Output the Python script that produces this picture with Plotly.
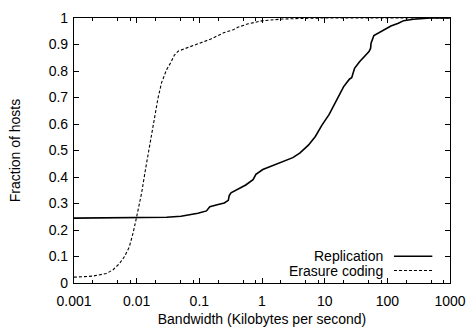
import plotly.graph_objects as go

# Replication (solid) CDF
rep_x = [0.001, 0.003, 0.01, 0.03, 0.051, 0.095, 0.13, 0.14, 0.147, 0.2, 0.25, 0.29, 0.3, 0.32,
         0.41, 0.55, 0.72, 0.75, 0.8, 1.03, 1.49, 2.2, 3.1, 4.0, 5.5, 7.1, 9.0, 11.8, 14.0,
         16.8, 20.0, 22.4, 25.0, 27.0, 30.0, 36.0, 43.0, 51.0, 54.0, 55.0, 61.0, 80.0,
         114.0, 150.0, 182.0, 260.0, 350.0, 490.0, 1000.0]
rep_y = [0.245, 0.246, 0.247, 0.248, 0.252, 0.263, 0.272, 0.285, 0.288, 0.296, 0.302, 0.312, 0.33,
         0.34, 0.355, 0.37, 0.39, 0.40, 0.41, 0.428, 0.443, 0.458, 0.473, 0.49, 0.52, 0.553,
         0.595, 0.636, 0.67, 0.71, 0.74, 0.756, 0.77, 0.775, 0.81, 0.835, 0.855, 0.873,
         0.885, 0.905, 0.934, 0.95, 0.97, 0.98, 0.99, 0.995, 0.998, 1.0, 1.0]

# Erasure coding (dashed) CDF
era_x = [0.001, 0.002, 0.0033, 0.0042, 0.0053, 0.0064, 0.0076, 0.0088, 0.01, 0.012, 0.014,
         0.0165, 0.0187, 0.022, 0.025, 0.03, 0.0347, 0.04, 0.046, 0.06, 0.095, 0.15, 0.25,
         0.35, 0.41, 0.6, 1.03, 2.1, 4.0, 9.0, 1000.0]
era_y = [0.022, 0.026, 0.036, 0.05, 0.073, 0.1, 0.135, 0.19, 0.25, 0.34, 0.436, 0.53, 0.61,
         0.7, 0.756, 0.805, 0.83, 0.86, 0.875, 0.885, 0.90, 0.92, 0.945, 0.956, 0.965,
         0.978, 0.99, 0.996, 0.998, 1.0, 1.0]

series_names = ["Replication", "Erasure coding"]
x_ticks = [0.001, 0.01, 0.1, 1, 10, 100, 1000]
x_ticktext = ["0.001", "0.01", "0.1", "1", "10", "100", "1000"]
y_ticks = [0, 0.1, 0.2, 0.3, 0.4, 0.5, 0.6, 0.7, 0.8, 0.9, 1]
y_ticktext = ["0", "0.1", "0.2", "0.3", "0.4", "0.5", "0.6", "0.7", "0.8", "0.9", "1"]
minor_mult = [2, 5, 8]

FONT = "Liberation Sans, Arial, sans-serif"

fig = go.Figure()
fig.add_trace(go.Scatter(x=rep_x, y=rep_y, mode="lines", name=series_names[0],
                         line=dict(color="black", width=1.6), showlegend=False))
fig.add_trace(go.Scatter(x=era_x, y=era_y, mode="lines", name=series_names[1],
                         line=dict(color="black", width=1.1, dash="3px,2px"), showlegend=False))

minor_vals = [d * m for d in x_ticks[:-1] for m in minor_mult]

fig.update_xaxes(type="log", range=[-3, 3], tickvals=x_ticks, ticktext=x_ticktext,
                 ticks="inside", ticklen=5, tickwidth=1, tickcolor="black",
                 ticklabelstandoff=5,
                 showline=True, linecolor="black", linewidth=1.2, mirror="allticks",
                 showgrid=False, zeroline=False,
                 minor=dict(tickvals=minor_vals, ticks="inside", ticklen=3, tickcolor="black",
                            showgrid=False),
                 tickfont=dict(family=FONT, size=14, color="black"),
                 title=dict(text="Bandwidth (Kilobytes per second)", standoff=6,
                            font=dict(family=FONT, size=14, color="black")))
fig.update_yaxes(range=[0, 1], tickvals=y_ticks, ticktext=y_ticktext,
                 ticks="inside", ticklen=5, tickwidth=1, tickcolor="black",
                 ticklabelstandoff=2,
                 showline=True, linecolor="black", linewidth=1.2, mirror="allticks",
                 showgrid=False, zeroline=False,
                 tickfont=dict(family=FONT, size=14, color="black"),
                 title=dict(text="Fraction of hosts", standoff=24,
                            font=dict(family=FONT, size=14, color="black")))

# legend drawn gnuplot-style (text right, sample line right of it)
legend_rows = [(0.101, "solid", 1.6), (0.047, "3px,2px", 1.1)]
for (yy, dash, w), name in zip(legend_rows, series_names):
    fig.add_annotation(x=0.827, y=yy, xref="paper", yref="paper", text=name,
                       showarrow=False, xanchor="right", yanchor="middle",
                       font=dict(family=FONT, size=14, color="black"))
    fig.add_shape(type="line", xref="paper", yref="paper", x0=0.851, x1=0.953, y0=yy, y1=yy,
                  line=dict(color="black", width=w, dash=dash))

fig.update_layout(width=476, height=335, margin=dict(l=74, r=20, t=10, b=50),
                  paper_bgcolor="white", plot_bgcolor="white", showlegend=False,
                  font=dict(family=FONT, size=14, color="black"))

fig.write_html("out.html")
